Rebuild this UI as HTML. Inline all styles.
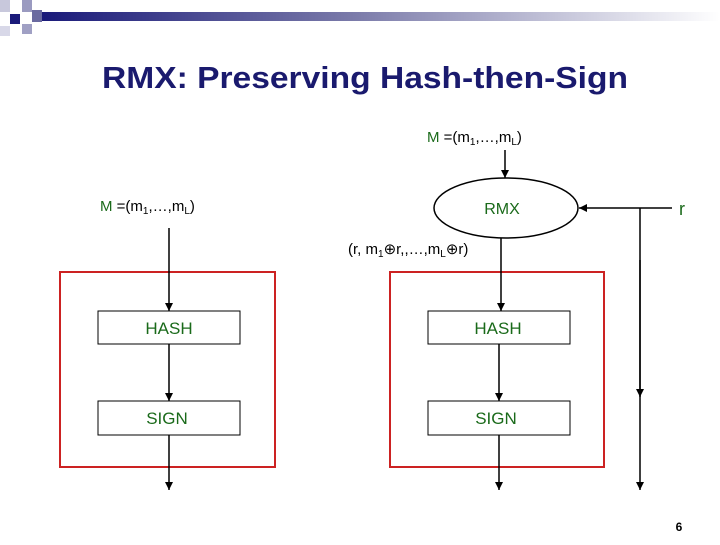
<!DOCTYPE html>
<html><head><style>
body{margin:0;background:#fff;}
.t{font-family:"Liberation Sans",sans-serif;}
</style></head><body>
<svg width="720" height="540" xmlns="http://www.w3.org/2000/svg">
<defs>
<linearGradient id="g" x1="0" x2="1"><stop offset="0" stop-color="#1a1a7a"/><stop offset="0.45" stop-color="#7878a8"/><stop offset="1" stop-color="#fff"/></linearGradient>
<marker id="a" markerWidth="8" markerHeight="8" refX="8" refY="4" orient="auto" markerUnits="userSpaceOnUse"><path d="M0,0 L8,4 L0,8 z" fill="#000"/></marker>
</defs>
<rect x="40" y="12" width="680" height="9" fill="url(#g)"/>
<rect x="10" y="14" width="10" height="10" fill="#1a1a7a"/>
<rect x="0" y="0" width="10" height="12" fill="#c8c8dc"/>
<rect x="22" y="0" width="10" height="12" fill="#9a9ac0"/>
<rect x="32" y="10" width="10" height="12" fill="#6a6aa0"/>
<rect x="22" y="24" width="10" height="10" fill="#a0a0c4"/>
<rect x="0" y="26" width="10" height="10" fill="#d8d8e8"/>
<text x="102" y="88" textLength="526" lengthAdjust="spacingAndGlyphs" class="t" font-size="31" font-weight="bold" fill="#1a1a6e">RMX: Preserving Hash-then-Sign</text>

<g class="t" font-size="15" fill="#000">
<text x="427" y="142"><tspan fill="#1a6a1a">M</tspan> =(m<tspan font-size="10" dy="3">1</tspan><tspan dy="-3">,…,m</tspan><tspan font-size="10" dy="3">L</tspan><tspan dy="-3">)</tspan></text>
<text x="100" y="211"><tspan fill="#1a6a1a">M</tspan> =(m<tspan font-size="10" dy="3">1</tspan><tspan dy="-3">,…,m</tspan><tspan font-size="10" dy="3">L</tspan><tspan dy="-3">)</tspan></text>
<text x="348" y="254">(r, m<tspan font-size="10" dy="3">1</tspan><tspan dy="-3">⊕r,,…,m</tspan><tspan font-size="10" dy="3">L</tspan><tspan dy="-3">⊕r)</tspan></text>
<text x="679" y="215" fill="#1a6a1a" font-size="18">r</text>
</g>
<ellipse cx="506" cy="208" rx="72" ry="30" fill="#fff" stroke="#000" stroke-width="1.5"/>
<text x="502" y="214" text-anchor="middle" class="t" font-size="16" fill="#1a6a1a">RMX</text>

<g stroke="#000" stroke-width="1.5" fill="none">
<line x1="505" y1="150" x2="505" y2="178" marker-end="url(#a)"/>
<line x1="672" y1="208" x2="579" y2="208" marker-end="url(#a)"/>
<line x1="640" y1="208" x2="640" y2="490" marker-end="url(#a)"/>
<line x1="640" y1="260" x2="640" y2="397" marker-end="url(#a)"/>
</g>
<rect x="60" y="272" width="215" height="195" fill="none" stroke="#cc2222" stroke-width="2"/>
<rect x="390" y="272" width="214" height="195" fill="none" stroke="#cc2222" stroke-width="2"/>
<g stroke="#000" stroke-width="1.5" fill="none">
<line x1="169" y1="228" x2="169" y2="311" marker-end="url(#a)"/>
<line x1="169" y1="344" x2="169" y2="401" marker-end="url(#a)"/>
<line x1="169" y1="435" x2="169" y2="490" marker-end="url(#a)"/>
<line x1="501" y1="238" x2="501" y2="311" marker-end="url(#a)"/>
<line x1="499" y1="344" x2="499" y2="401" marker-end="url(#a)"/>
<line x1="499" y1="435" x2="499" y2="490" marker-end="url(#a)"/>
</g>
<g fill="#fff" stroke="#000" stroke-width="1">
<rect x="98" y="311" width="142" height="33"/>
<rect x="98" y="401" width="142" height="34"/>
<rect x="428" y="311" width="142" height="33"/>
<rect x="428" y="401" width="142" height="34"/>
</g>
<g class="t" font-size="17" fill="#1a6a1a" text-anchor="middle">
<text x="169" y="334">HASH</text>
<text x="167" y="424">SIGN</text>
<text x="498" y="334">HASH</text>
<text x="496" y="424">SIGN</text>
</g>
<text x="679" y="531" text-anchor="middle" class="t" font-size="12" font-weight="bold">6</text>
</svg>
</body></html>
